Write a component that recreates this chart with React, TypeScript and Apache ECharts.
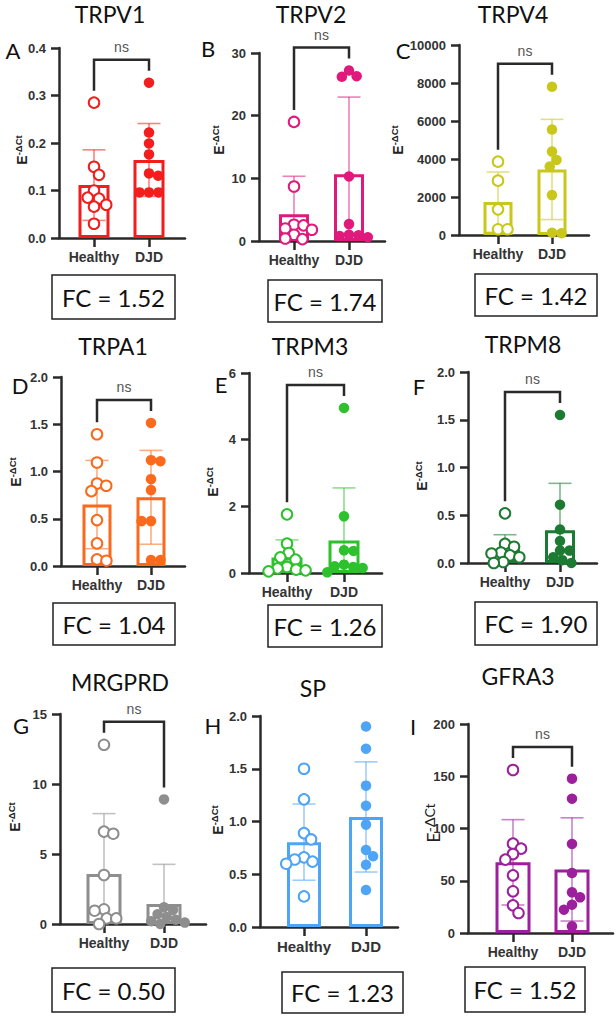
import React, { useEffect, useRef } from 'react';
import * as echarts from 'echarts';

// Group names on every x axis
const GROUPS = ['Healthy', 'DJD'];

// Panel headings, letters, fold-change captions and significance labels
const GENES = ['TRPV1', 'TRPV2', 'TRPV4', 'TRPA1', 'TRPM3', 'TRPM8', 'MRGPRD', 'SP', 'GFRA3'];
const LETTERS = ['A', 'B', 'C', 'D', 'E', 'F', 'G', 'H', 'I'];
const FOLD_CHANGE = ['1.52', '1.74', '1.42', '1.04', '1.26', '1.90', '0.50', '1.23', '1.52'];
const SIGNIF = ['ns', 'ns', 'ns', 'ns', 'ns', 'ns', 'ns', '', 'ns'];

// Y axis ranges and tick steps
const Y_MAX = [0.4, 30, 10000, 2.0, 6, 2.0, 15, 2.0, 200];
const Y_STEP = [0.1, 10, 2000, 0.5, 2, 0.5, 5, 0.5, 50];
const Y_DECIMALS = [1, 0, 0, 1, 0, 1, 0, 1, 0];

// Expression values (E^-ΔCt) for each subject
const trpv1Healthy = [0.285, 0.150, 0.133, 0.100, 0.085, 0.083, 0.070, 0.066, 0.030];
const trpv1Djd = [0.327, 0.222, 0.199, 0.176, 0.136, 0.131, 0.096, 0.096, 0.096];
const trpv2Healthy = [19.0, 8.7, 2.6, 2.5, 2.0, 1.8, 1.0, 0.4, 0.3];
const trpv2Djd = [27.2, 26.3, 26.2, 10.3, 2.7, 1.0, 0.9, 0.8, 0.6];
const trpv4Healthy = [3860, 2860, 1350, 300, 300];
const trpv4Djd = [7800, 5550, 4390, 3950, 3600, 2100, 120, 90];
const trpa1Healthy = [1.394, 1.095, 0.873, 0.849, 0.792, 0.486, 0.239, 0.070, 0.056];
const trpa1Djd = [1.514, 1.120, 1.109, 0.919, 0.803, 0.475, 0.475, 0.063, 0.063];
const trpm3Healthy = [1.76, 0.88, 0.60, 0.47, 0.40, 0.18, 0.14, 0.10, 0.08, 0.05];
const trpm3Djd = [4.95, 1.70, 0.68, 0.66, 0.25, 0.20, 0.18, 0.15, 0.02];
const trpm8Healthy = [0.52, 0.20, 0.17, 0.11, 0.10, 0.08, 0.06, 0.01, 0.0];
const trpm8Djd = [1.55, 0.61, 0.35, 0.23, 0.13, 0.13, 0.06, 0.03, 0.0];
const mrgprdHealthy = [12.8, 6.6, 6.45, 3.5, 1.05, 0.95, 0.4, 0.4, 0.0];
const mrgprdDjd = [8.9, 1.2, 1.0, 0.7, 0.5, 0.3, 0.2, 0.1, 0.0];
const spHealthy = [1.50, 1.21, 0.89, 0.83, 0.66, 0.64, 0.62, 0.60, 0.29];
const spDjd = [1.90, 1.69, 1.34, 1.15, 0.97, 0.73, 0.67, 0.59, 0.35];
const gfra3Healthy = [156, 85.5, 80.7, 75.6, 70.2, 55.2, 39.9, 26.5, 19.1];
const gfra3Djd = [147.7, 128.5, 85.2, 57.4, 38.9, 34.1, 27.1, 22.3, 6.4];

const HEALTHY = [trpv1Healthy, trpv2Healthy, trpv4Healthy, trpa1Healthy, trpm3Healthy, trpm8Healthy, mrgprdHealthy, spHealthy, gfra3Healthy];
const DJD = [trpv1Djd, trpv2Djd, trpv4Djd, trpa1Djd, trpm3Djd, trpm8Djd, mrgprdDjd, spDjd, gfra3Djd];

// Panel colours
const COLORS = ['#f21d1d', '#e0197d', '#c9c81a', '#fb6a1c', '#2dc22d', '#1d7a33', '#8e8e8e', '#4ea4f5', '#9c1f9c'];

// Panel geometry in page pixels
type Layout = {
  axisX: number; topY: number; zeroY: number; cat0: number; cat1: number; rightX: number;
  barW: number; title: number[]; letter: number[]; yName: number[]; box: number[];
};
const LAYOUT: Layout[] = [
  { axisX: 59, topY: 48, zeroY: 238, cat0: 94, cat1: 149, rightX: 185, barW: 34, title: [110, 14], letter: [13, 50], yName: [22, 150], box: [52, 275, 123, 44] },
  { axisX: 259, topY: 53, zeroY: 241, cat0: 294, cat1: 349, rightX: 385, barW: 33, title: [311, 14], letter: [208, 48], yName: [219, 140], box: [268, 280, 114, 42] },
  { axisX: 459, topY: 45, zeroY: 235, cat0: 498, cat1: 552, rightX: 589, barW: 32, title: [513, 14], letter: [403, 50], yName: [398, 140], box: [475, 274, 122, 42] },
  { axisX: 61, topY: 377, zeroY: 566, cat0: 97, cat1: 151, rightX: 185, barW: 32, title: [113, 346], letter: [20, 385], yName: [16, 472], box: [53, 603, 122, 42] },
  { axisX: 249, topY: 373, zeroY: 573, cat0: 287, cat1: 344, rightX: 382, barW: 34, title: [310, 346], letter: [221, 384], yName: [213, 482], box: [268, 605, 114, 42] },
  { axisX: 468, topY: 372, zeroY: 563, cat0: 505, cat1: 560, rightX: 597, barW: 33, title: [523, 344], letter: [419, 386], yName: [422, 476], box: [475, 602, 122, 43] },
  { axisX: 60, topY: 714, zeroY: 924, cat0: 104, cat1: 164, rightX: 206, barW: 38, title: [120, 682], letter: [21, 725], yName: [15, 817], box: [52, 968, 123, 44] },
  { axisX: 260, topY: 716, zeroY: 927, cat0: 304, cat1: 366, rightX: 398, barW: 37, title: [313, 688], letter: [213, 725], yName: [218, 820], box: [282, 972, 121, 41] },
  { axisX: 468, topY: 724, zeroY: 933, cat0: 513, cat1: 572, rightX: 613, barW: 38, title: [518, 676], letter: [413, 726], yName: [433, 823], box: [465, 967, 120, 45] },
];

const AXIS_COLOR = '#2a2a2a';
const SANS = '"Liberation Sans", Arial, sans-serif';
const HUMANIST = 'Lato, "Open Sans", sans-serif';
const MARK = 10.5;
const SWARM_GAP = 9.5;
const CAP = 11.5;

function mean(v: number[]): number {
  return v.reduce((a, b) => a + b, 0) / v.length;
}
function sd(v: number[]): number {
  const m = mean(v);
  return Math.sqrt(v.reduce((a, b) => a + (b - m) * (b - m), 0) / (v.length - 1));
}

// Beeswarm: horizontal pixel offsets so that markers do not pile up
function swarmOffsets(values: number[], pxPerUnit: number, gap: number): number[] {
  const order = values.map((_, i) => i).sort((a, b) => values[b] - values[a]);
  const placed: { x: number; y: number }[] = [];
  const out = values.map(() => 0);
  let flip = 1;
  for (const i of order) {
    const y = values[i] * pxPerUnit;
    const blocks: [number, number][] = [];
    for (const p of placed) {
      const dy = Math.abs(p.y - y);
      if (dy < gap) {
        const dx = Math.sqrt(gap * gap - dy * dy);
        blocks.push([p.x - dx, p.x + dx]);
      }
    }
    const free = (x: number) => blocks.every(([a, b]) => x <= a + 1e-6 || x >= b - 1e-6);
    let best = 0;
    if (!free(0)) {
      const f = flip;
      const cands = blocks
        .flatMap(([a, b]) => [a, b])
        .filter(free)
        .sort((u, w) => Math.abs(u) - Math.abs(w) || (w - u) * f);
      best = cands.length ? cands[0] : 0;
      flip = -flip;
    }
    placed.push({ x: best, y });
    out[i] = best;
  }
  return out;
}

function buildOption(): any {
  const grid: any[] = [];
  const xAxis: any[] = [];
  const yAxis: any[] = [];
  const series: any[] = [];
  const graphic: any[] = [];

  LAYOUT.forEach((L, i) => {
    const color = COLORS[i];
    const span = L.cat1 - L.cat0;
    const pxPerUnit = (L.zeroY - L.topY) / Y_MAX[i];
    const h = HEALTHY[i];
    const d = DJD[i];

    grid.push({ left: L.axisX, top: L.topY, width: L.rightX - L.axisX, height: L.zeroY - L.topY });

    xAxis.push({
      type: 'value',
      gridIndex: i,
      min: (L.axisX - L.cat0) / span,
      max: (L.rightX - L.cat0) / span,
      axisLine: { show: true, onZero: false, lineStyle: { color: AXIS_COLOR, width: 2.5 } },
      axisTick: { show: true, customValues: [0, 1], length: 9, lineStyle: { color: AXIS_COLOR, width: 2.5 } },
      axisLabel: {
        show: true,
        customValues: [0, 1],
        formatter: (v: number) => GROUPS[Math.round(v)] ?? '',
        margin: 12,
        fontFamily: SANS,
        fontWeight: 'bold',
        fontSize: i === 7 ? 15 : 14,
        color: '#333',
      },
      splitLine: { show: false },
    });

    yAxis.push({
      type: 'value',
      gridIndex: i,
      min: 0,
      max: Y_MAX[i],
      interval: Y_STEP[i],
      axisLine: { show: true, onZero: false, lineStyle: { color: AXIS_COLOR, width: 2.5 } },
      axisTick: { show: true, length: 8, lineStyle: { color: AXIS_COLOR, width: 2.5 } },
      axisLabel: {
        formatter: (v: number) => v.toFixed(Y_DECIMALS[i]),
        margin: 13,
        fontFamily: SANS,
        fontWeight: 'bold',
        fontSize: 13,
        color: '#333',
      },
      splitLine: { show: false },
    });

    const mH = mean(h);
    const mD = mean(d);

    // Mean bars
    series.push({
      type: 'bar',
      xAxisIndex: i,
      yAxisIndex: i,
      data: [[0, mH], [1, mD]],
      barWidth: L.barW - 3,
      itemStyle: { color: '#ffffff', borderColor: color, borderWidth: 3 },
      silent: true,
      z: 2,
    });

    // Mean ± SD error bars
    series.push({
      type: 'custom',
      xAxisIndex: i,
      yAxisIndex: i,
      data: [[0, mH, sd(h)], [1, mD, sd(d)]],
      silent: true,
      z: 3,
      renderItem: (_p: any, api: any) => {
        const x = api.value(0);
        const m = api.value(1);
        const s = api.value(2);
        const top = api.coord([x, m + s]);
        const bot = api.coord([x, Math.max(0, m - s)]);
        const st = { stroke: color, lineWidth: 1.6, opacity: 0.55 };
        const children: any[] = [
          { type: 'line', shape: { x1: top[0], y1: top[1], x2: bot[0], y2: bot[1] }, style: st },
          { type: 'line', shape: { x1: top[0] - CAP, y1: top[1], x2: top[0] + CAP, y2: top[1] }, style: st },
        ];
        if (m - s > 0) {
          children.push({ type: 'line', shape: { x1: bot[0] - CAP, y1: bot[1], x2: bot[0] + CAP, y2: bot[1] }, style: st });
        }
        return { type: 'group', children };
      },
    });

    // Individual subjects
    const offH = swarmOffsets(h, pxPerUnit, SWARM_GAP);
    const offD = swarmOffsets(d, pxPerUnit, SWARM_GAP);
    series.push({
      type: 'scatter',
      xAxisIndex: i,
      yAxisIndex: i,
      data: h.map((v, k) => [offH[k] / span, v]),
      symbol: 'circle',
      symbolSize: MARK,
      itemStyle: { color: '#ffffff', borderColor: color, borderWidth: 2, opacity: 1 },
      silent: true,
      clip: false,
      z: 4,
    });
    series.push({
      type: 'scatter',
      xAxisIndex: i,
      yAxisIndex: i,
      data: d.map((v, k) => [1 + offD[k] / span, v]),
      symbol: 'circle',
      symbolSize: MARK,
      itemStyle: { color, opacity: 1 },
      silent: true,
      clip: false,
      z: 4,
    });

    // Comparison bracket
    if (SIGNIF[i]) {
      const maxH = Math.max(...h);
      const maxD = Math.max(...d);
      series.push({
        type: 'custom',
        xAxisIndex: i,
        yAxisIndex: i,
        data: [[0, 0]],
        silent: true,
        clip: false,
        z: 5,
        renderItem: (_p: any, api: any) => {
          const a = api.coord([0, maxH]);
          const b = api.coord([1, maxD]);
          const top = Math.min(a[1], b[1]) - 23;
          return {
            type: 'group',
            children: [
              {
                type: 'polyline',
                shape: { points: [[a[0], a[1] - 12], [a[0], top], [b[0], top], [b[0], b[1] - 12]] },
                style: { stroke: AXIS_COLOR, lineWidth: 2.5, fill: null },
              },
              {
                type: 'text',
                x: (a[0] + b[0]) / 2,
                y: top - 13,
                style: {
                  text: SIGNIF[i],
                  font: `14px ${SANS}`,
                  fill: '#555',
                  align: 'center',
                  verticalAlign: 'middle',
                },
              },
            ],
          };
        },
      });
    }

    // Heading, panel letter, y axis title and fold-change box
    graphic.push({
      type: 'text',
      x: L.title[0],
      y: L.title[1],
      style: { text: GENES[i], font: `23px ${HUMANIST}`, fill: '#111', align: 'center', verticalAlign: 'middle', textAlign: 'center', textVerticalAlign: 'middle' },
    });
    graphic.push({
      type: 'text',
      x: L.letter[0],
      y: L.letter[1],
      style: { text: LETTERS[i], font: `22px ${HUMANIST}`, fill: '#111', align: 'center', verticalAlign: 'middle', textAlign: 'center', textVerticalAlign: 'middle' },
    });
    const plainName = i === 8;
    graphic.push({
      type: 'text',
      x: L.yName[0],
      y: L.yName[1],
      rotation: Math.PI / 2,
      style: {
        text: '{e|E}{s|-ΔCt}',
        align: 'center',
        verticalAlign: 'middle',
        textAlign: 'center',
        textVerticalAlign: 'middle',
        fill: '#222',
        rich: plainName
          ? {
              e: { fontFamily: HUMANIST, fontSize: 18, lineHeight: 22, fill: '#222' },
              s: { fontFamily: HUMANIST, fontSize: 14, lineHeight: 16, verticalAlign: 'top', fill: '#222' },
            }
          : {
              e: { fontFamily: SANS, fontWeight: 'bold', fontSize: 14, lineHeight: 18, fill: '#222' },
              s: { fontFamily: SANS, fontWeight: 'bold', fontSize: 9.5, lineHeight: 7, verticalAlign: 'top', fill: '#222' },
            },
      },
    });
    graphic.push({
      type: 'rect',
      shape: { x: L.box[0], y: L.box[1], width: L.box[2], height: L.box[3] },
      style: { fill: '#ffffff', stroke: '#222', lineWidth: 1.5 },
    });
    graphic.push({
      type: 'text',
      x: L.box[0] + L.box[2] / 2,
      y: L.box[1] + L.box[3] / 2,
      style: { text: `FC = ${FOLD_CHANGE[i]}`, font: `24px ${HUMANIST}`, fill: '#111', align: 'center', verticalAlign: 'middle', textAlign: 'center', textVerticalAlign: 'middle' },
    });
  });

  return {
    animation: false,
    backgroundColor: '#ffffff',
    textStyle: { fontFamily: SANS },
    grid,
    xAxis,
    yAxis,
    series,
    graphic,
  };
}

export default function App() {
  const ref = useRef<HTMLDivElement>(null);
  useEffect(() => {
    if (!ref.current) return;
    const chart = echarts.init(ref.current, undefined, { renderer: 'svg' });
    chart.setOption(buildOption());
    return () => chart.dispose();
  }, []);
  return (
    <div
      ref={ref}
      style={{ position: 'absolute', left: 0, top: 0, width: 616, height: 1016, background: '#fff' }}
    />
  );
}
